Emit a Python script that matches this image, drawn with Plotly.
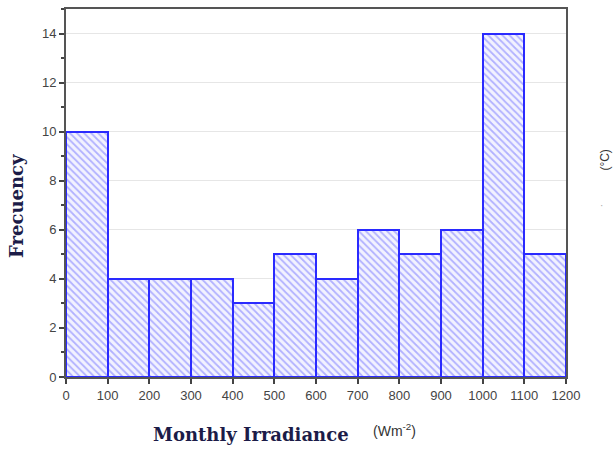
import plotly.graph_objects as go

bin_starts = [0, 100, 200, 300, 400, 500, 600, 700, 800, 900, 1000, 1100]
bin_width = 100
counts = [10, 4, 4, 4, 3, 5, 4, 6, 5, 6, 14, 5]
x_ticks = list(range(0, 1201, 100))
y_ticks = list(range(0, 15, 2))

fig = go.Figure()
fig.add_trace(go.Bar(
    x=bin_starts, y=counts, width=[bin_width] * len(counts), offset=0,
    marker=dict(
        color="#f2f2ff",
        line=dict(color="#2a2aff", width=2),
        pattern=dict(shape="\\", fgcolor="#6f6fff", bgcolor="#f2f2ff", size=5, solidity=0.35),
    ),
    showlegend=False,
))

tick_font = dict(family="Liberation Sans, Arial", size=13, color="#444")

fig.update_layout(
    width=614, height=449,
    margin=dict(l=66, r=48, t=7, b=72),
    paper_bgcolor="white", plot_bgcolor="white",
    bargap=0,
    xaxis=dict(
        range=[0, 1200], tickvals=x_ticks, ticktext=[str(v) for v in x_ticks],
        ticks="outside", ticklen=5, tickcolor="#444", tickwidth=1.5,
        showline=True, linecolor="#555", linewidth=2, mirror=True,
        showgrid=False, zeroline=False, tickfont=tick_font,
    ),
    yaxis=dict(
        range=[0, 15], tickvals=y_ticks, ticktext=[str(v) for v in y_ticks],
        ticks="outside", ticklen=5, tickcolor="#444", tickwidth=1.5,
        showline=True, linecolor="#555", linewidth=2, mirror=True,
        showgrid=True, gridcolor="#e6e6e6", gridwidth=1, zeroline=False,
        minor=dict(dtick=1, tick0=1, ticks="outside", ticklen=3, tickcolor="#444", showgrid=False),
        tickfont=tick_font,
    ),
    annotations=[
        dict(text="<b>Frecuency</b>", xref="paper", yref="paper", x=-0.098, y=0.465,
             textangle=-90, showarrow=False, xanchor="center", yanchor="middle",
             font=dict(family="DejaVu Serif, Liberation Serif", size=18, color="#1c1c48")),
        dict(text="<b>Monthly Irradiance</b>", xref="paper", yref="paper", x=0.37, y=-0.155,
             showarrow=False, xanchor="center", yanchor="middle",
             font=dict(family="DejaVu Serif, Liberation Serif", size=18, color="#1c1c48")),
        dict(text="(Wm<sup>-2</sup>)", xref="paper", yref="paper", x=0.656, y=-0.145,
             showarrow=False, xanchor="center", yanchor="middle",
             font=dict(family="Liberation Sans, Arial", size=14, color="#333")),
        dict(text="(°C)", xref="paper", yref="paper", x=1.078, y=0.588,
             textangle=-90, showarrow=False, xanchor="center", yanchor="middle",
             font=dict(family="Liberation Sans, Arial", size=12, color="#333")),
        dict(text="·", xref="paper", yref="paper", x=1.07, y=0.465,
             showarrow=False, xanchor="center", yanchor="middle",
             font=dict(family="Liberation Sans, Arial", size=10, color="#aaa")),
    ],
)

fig.write_html("out.html")
